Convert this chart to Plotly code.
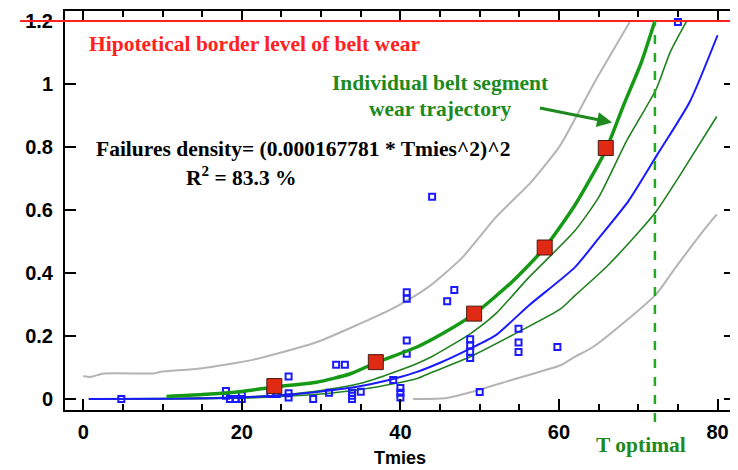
import plotly.graph_objects as go

# ---------------- data ----------------
scatter_x = [4.8, 18, 18, 18.5, 19.2, 20, 20, 23.6, 24.4, 25.9, 25.9, 25.9, 29, 31,
             31.9, 33, 33.9, 33.9, 33.9, 35, 39.1, 40, 40, 40, 40.8, 40.8, 40.8, 40.8,
             44, 45.9, 46.8, 48.8, 48.8, 48.8, 48.8, 50, 54.9, 54.9, 54.9, 59.8, 75]
scatter_y = [0.0, 0.025, 0.01, 0.0, 0.0, 0.012, 0.0, 0.016, 0.016, 0.071, 0.018, 0.005, 0.0, 0.02,
             0.109, 0.109, 0.02, 0.01, 0.0, 0.023, 0.06, 0.035, 0.02, 0.005, 0.339, 0.318, 0.186, 0.144,
             0.642, 0.31, 0.346, 0.19, 0.17, 0.15, 0.13, 0.022, 0.223, 0.179, 0.149, 0.165, 1.197]

red_x = [24.1, 36.9, 49.3, 58.2, 65.9]
red_y = [0.041, 0.117, 0.271, 0.481, 0.797]

fit_x = [10.5, 15, 20, 24.1, 29.4, 33.7, 36.9, 42.1, 45.5, 49.3, 54, 58.2, 62, 65.9, 68.1, 70.4, 72.1]
fit_y = [0.008, 0.014, 0.024, 0.038, 0.053, 0.08, 0.115, 0.165, 0.21, 0.27, 0.37, 0.48, 0.615, 0.79, 0.93, 1.07, 1.2]

upper_conf_x = [0.7, 10, 20, 25, 30, 35, 39.3, 42.1, 44, 48.8, 52, 56.2, 62, 65, 68.5, 72.3, 74, 76.1]
upper_conf_y = [0.0, 0.001, 0.006, 0.013, 0.027, 0.05, 0.086, 0.113, 0.135, 0.207, 0.27, 0.386, 0.534, 0.64, 0.818, 0.986, 1.1, 1.2]

median_x = [0.7, 10, 20, 25, 29.5, 33, 36.2, 39.3, 42.1, 45, 48.8, 52, 56.2, 62, 65, 68.8, 72.4, 76.5, 80]
median_y = [0.0, 0.001, 0.005, 0.012, 0.022, 0.033, 0.047, 0.065, 0.086, 0.115, 0.16, 0.202, 0.297, 0.418, 0.51, 0.63, 0.776, 0.944, 1.155]

lower_conf_x = [0.7, 10, 20, 25, 30, 35, 39.3, 42.1, 44, 48.8, 54.9, 60.2, 62, 66, 70.2, 72.3, 76, 79.9]
lower_conf_y = [0.0, 0.0, 0.003, 0.008, 0.016, 0.03, 0.049, 0.065, 0.085, 0.134, 0.213, 0.286, 0.328, 0.42, 0.534, 0.597, 0.74, 0.897]

upper_pred_x = [0.0, 0.9, 2.6, 8.9, 9.7, 14.8, 21.5, 29.5, 34.9, 39.3, 43.5, 47.8, 52, 56.6, 60.2, 64.3, 69]
upper_pred_y = [0.073, 0.07, 0.081, 0.081, 0.086, 0.097, 0.125, 0.181, 0.239, 0.291, 0.355, 0.449, 0.576, 0.692, 0.807, 0.997, 1.2]

lower_pred_x = [41.6, 45.6, 49.8, 54, 58.3, 60.2, 62, 64.3, 68.5, 72.3, 74.4, 78.2, 79.9]
lower_pred_y = [0.0, 0.002, 0.028, 0.06, 0.092, 0.107, 0.134, 0.165, 0.249, 0.334, 0.407, 0.534, 0.586]

border_level = 1.2
t_optimal = 72.1
t_optimal_bottom = -0.073
t_optimal_label_y = -0.145

x_range = [-2.3, 82.2]
y_range = [-0.035, 1.232]
x_ticks = [0, 20, 40, 60, 80]
y_ticks = [0, 0.2, 0.4, 0.6, 0.8, 1, 1.2]
y_tick_text = ["0", "0.2", "0.4", "0.6", "0.8", "1", "1.2"]

# ---------------- styles ----------------
GREEN_THICK = "#169a16"
GREEN_THIN = "#1f801f"
GREEN_TEXT = "#1e8a1e"
BLUE = "#1a1aff"
GRAY = "#b4b4b4"
RED = "#ff2020"
SERIF = "Liberation Serif, Times New Roman, serif"
SANS = "Liberation Sans, Arial, sans-serif"


def curve(x, y, color, width):
    return go.Scatter(x=x, y=y, mode="lines",
                      line=dict(color=color, width=width, shape="spline", smoothing=0.6))


fig = go.Figure()

fig.add_trace(curve(upper_pred_x, upper_pred_y, GRAY, 2))
fig.add_trace(curve(lower_pred_x, lower_pred_y, GRAY, 2))
fig.add_trace(curve(lower_conf_x, lower_conf_y, GREEN_THIN, 1.6))
fig.add_trace(curve(upper_conf_x, upper_conf_y, GREEN_THIN, 1.6))
fig.add_trace(curve(median_x, median_y, BLUE, 2))
fig.add_trace(go.Scatter(x=scatter_x, y=scatter_y, mode="markers",
                         marker=dict(symbol="square-open", size=6, color=BLUE,
                                     line=dict(width=2, color=BLUE)),
                         cliponaxis=False))
fig.add_trace(curve(fit_x, fit_y, GREEN_THICK, 3.5))
fig.add_trace(go.Scatter(x=red_x, y=red_y, mode="markers",
                         marker=dict(symbol="square", size=15, color="#e02a14",
                                     line=dict(width=1, color="#4a1a10"))))

y_span = y_range[1] - y_range[0]


def y_dom(v):
    return (v - y_range[0]) / y_span


# border level line (extends beyond the frame)
fig.add_shape(type="line", xref="paper", yref="y", x0=-0.067, x1=1.01,
              y0=border_level, y1=border_level, line=dict(color=RED, width=2))
# T optimal dashed line (extends below the x axis)
fig.add_shape(type="line", xref="x", yref="y domain", x0=t_optimal, x1=t_optimal,
              y0=y_dom(t_optimal_bottom), y1=y_dom(border_level),
              line=dict(color="#22aa22", width=2.5, dash="dash"))

fig.add_annotation(x=0.5, y=1.127, xref="x", yref="y", xanchor="left", yanchor="middle",
                   text="<b>Hipotetical border level of belt wear</b>", showarrow=False,
                   font=dict(family=SERIF, size=21.5, color=RED))
fig.add_annotation(x=45, y=1.004, xref="x", yref="y", xanchor="center", yanchor="middle",
                   text="<b>Individual belt segment</b>", showarrow=False,
                   font=dict(family=SERIF, size=21.5, color=GREEN_TEXT))
fig.add_annotation(x=45, y=0.922, xref="x", yref="y", xanchor="center", yanchor="middle",
                   text="<b>wear trajectory</b>", showarrow=False,
                   font=dict(family=SERIF, size=21.5, color=GREEN_TEXT))
fig.add_annotation(x=66.7, y=0.878, ax=57.4, ay=0.925, xref="x", yref="y",
                   axref="x", ayref="y", text="", showarrow=True,
                   arrowhead=2, arrowsize=1, arrowwidth=3, arrowcolor=GREEN_TEXT)
fig.add_annotation(x=27.7, y=0.793, xref="x", yref="y", xanchor="center", yanchor="middle",
                   text="<b>Failures density= (0.000167781 * Tmies^2)^2</b>", showarrow=False,
                   font=dict(family=SERIF, size=21.5, color="black"))
fig.add_annotation(x=19.9, y=0.707, xref="x", yref="y", xanchor="center", yanchor="middle",
                   text="<b>R<sup>2</sup> = 83.3 %</b>", showarrow=False,
                   font=dict(family=SERIF, size=21.5, color="black"))
fig.add_annotation(x=70.4, y=y_dom(t_optimal_label_y), xref="x", yref="y domain",
                   xanchor="center", yanchor="middle",
                   text="<b>T optimal</b>", showarrow=False,
                   font=dict(family=SERIF, size=21.5, color=GREEN_TEXT))

axis_common = dict(showline=True, linewidth=2, linecolor="black", mirror="ticks",
                   ticks="inside", ticklen=11, tickwidth=2, tickcolor="black",
                   showgrid=False, zeroline=False,
                   tickfont=dict(family=SANS, size=20, color="black", weight="bold"))

fig.update_xaxes(range=x_range, tickvals=x_ticks, ticklabelstandoff=3,
                 minor=dict(dtick=5, tick0=0, ticks="inside", ticklen=6, tickwidth=1.5,
                            tickcolor="black", showgrid=False),
                 title=dict(text="Tmies", standoff=9,
                            font=dict(family=SANS, size=18, color="black", weight="bold")),
                 **axis_common)
fig.update_yaxes(range=y_range, tickvals=y_ticks, ticktext=y_tick_text, ticklabelstandoff=6,
                 **axis_common)

# the page body adds an 8px offset, so the figure is 8px smaller than the window
fig.update_layout(width=730, height=462, margin=dict(l=57, r=3, t=1, b=60),
                  plot_bgcolor="white", paper_bgcolor="white", showlegend=False)

fig.write_html("out.html")
